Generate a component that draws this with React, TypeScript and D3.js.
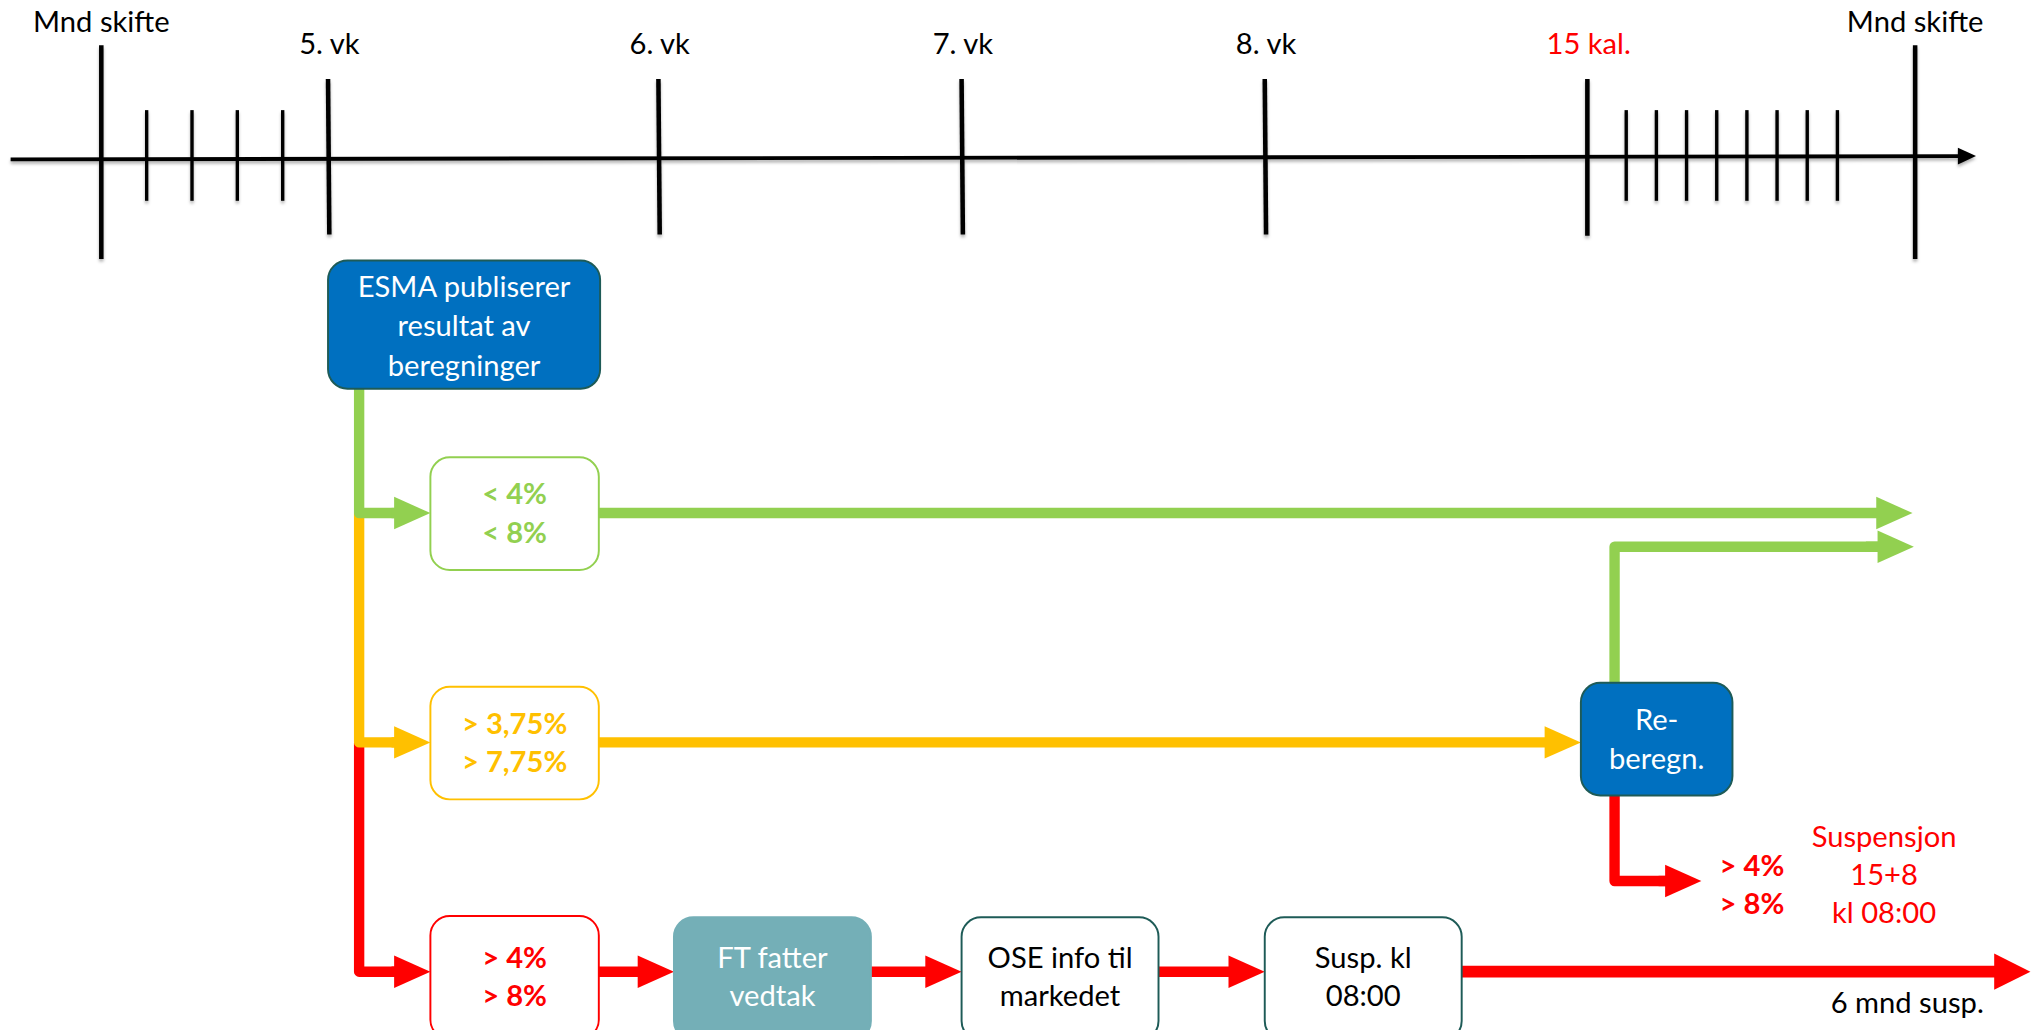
import * as d3 from "d3";

// timeline: labelled ticks and small day ticks, placed by slot number
const tickLabels = ["Mnd skifte", "5. vk", "6. vk", "7. vk", "8. vk", "15 kal.", "Mnd skifte"];
const tickSlots = [0, 5, 6, 7, 8, 15, 25];
const tickKinds = ["month", "week", "week", "week", "week", "kal", "month"];
const minorSlots = [1, 2, 3, 4, 16, 17, 18, 19, 20, 21, 22, 23];

// flow boxes
const startLines = ["ESMA publiserer", "resultat av", "beregninger"];
const branchLabels = [
	["< 4%", "< 8%"],
	["> 3,75%", "> 7,75%"],
	["> 4%", "> 8%"],
];
const branchColors = ["#92D050", "#FFC000", "#FF0000"];
const recalcLines = ["Re-", "beregn."];
const recalcRedLabels = ["> 4%", "> 8%"];
const suspLines = ["Suspensjon", "15+8", "kl 08:00"];
const stepLines = [
	["FT fatter", "vedtak"],
	["OSE info til", "markedet"],
	["Susp. kl", "08:00"],
];
const stepSlots = [6, 7, 8];
const endLabel = "6 mnd susp.";

const FONT = "Lato, 'Open Sans', sans-serif";
const BLUE = "#0070C0";
const DARK = "#1E5B57";
const RED = "#FF0000";
const GREEN = "#92D050";
const YELLOW = "#FFC000";

function Lines(props: {
	lines: string[];
	cx: number;
	cy: number;
	fill: string;
	bold?: boolean;
	lh?: number;
	anchor?: string;
}) {
	const lh = props.lh ?? 29.5;
	const n = props.lines.length;
	return (
		<text
			fontFamily={FONT}
			fontSize={22.5}
			fontWeight={props.bold ? 700 : 400}
			fill={props.fill}
			textAnchor={props.anchor ?? "middle"}
		>
			{props.lines.map((l, i) => (
				<tspan key={i} x={props.cx} y={props.cy + (i - (n - 1) / 2) * lh + 8}>
					{l}
				</tspan>
			))}
		</text>
	);
}

function Arrow(props: {
	x1: number;
	x2: number;
	y: number;
	color: string;
	w?: number;
	head?: number;
	half?: number;
}) {
	const head = props.head ?? 28;
	const half = props.half ?? 12.5;
	const w = props.w ?? 8;
	const base = props.x2 - head;
	return (
		<g>
			<line
				x1={props.x1}
				x2={base + 1}
				y1={props.y}
				y2={props.y}
				stroke={props.color}
				strokeWidth={w}
			/>
			<polygon
				points={`${base},${props.y - half} ${props.x2},${props.y} ${base},${props.y + half}`}
				fill={props.color}
			/>
		</g>
	);
}

function elbow(x0: number, y0: number, y1: number, x1: number) {
	const p = d3.path();
	p.moveTo(x0, y0);
	p.lineTo(x0, y1);
	p.lineTo(x1, y1);
	return p.toString();
}

export default function App() {
	const x = d3
		.scaleLinear()
		.domain([0, 5, 6, 7, 8, 15, 16, 23, 25])
		.range([78, 253, 508, 742, 976, 1225, 1255, 1418, 1478]);
	const rowY = d3.scaleLinear().domain([0, 2]).range([396, 750]);

	const axisY = 122;
	const tickExtent: Record<string, [number, number]> = {
		month: [35, 200],
		week: [61, 181],
		kal: [61, 182],
	};

	const trunkX = 277;
	const branchX0 = 332;
	const branchX1 = 462;
	const startBox = { x: x(5), y: 201, w: 210, h: 99 };
	const recalc = { x: x(15) - 5, y: 527, w: 117, h: 87 };
	const recalcStem = recalc.x + 26;
	const stepW = 152;
	const stepXs = stepSlots.map((s, i) => x(s) + (i === 0 ? 12 : 0));
	const boxH = 87;

	return (
		<svg
			width={2032}
			height={1030}
			viewBox="0 0 1568 795"
			style={{ position: "absolute", left: 0, top: 0, background: "#fff" }}
		>
			<defs>
				<filter id="sh" x="-5%" y="-50%" width="110%" height="200%">
					<feDropShadow dx="0" dy="2" stdDeviation="1.4" floodColor="#000" floodOpacity="0.3" />
				</filter>
			</defs>
			<rect x={0} y={0} width={1568} height={795} fill="#fff" />

			{/* timeline */}
			<g filter="url(#sh)">
				<line x1={8} x2={1512} y1={axisY + 1} y2={axisY - 1.5} stroke="#000" strokeWidth={3} />
				<polygon points={`1511,${axisY - 8} 1525,${axisY - 1.5} 1511,${axisY + 5}`} fill="#000" />
				{tickSlots.map((s, i) => {
					const [t, b] = tickExtent[tickKinds[i]];
					return (
						<line
							key={"t" + i}
							x1={x(s)}
							x2={x(s) + (tickKinds[i] === "week" ? 1 : 0)}
							y1={t}
							y2={b}
							stroke="#000"
							strokeWidth={3.5}
						/>
					);
				})}
				{minorSlots.map((s, i) => (
					<line key={"m" + i} x1={x(s)} x2={x(s)} y1={85} y2={155} stroke="#000" strokeWidth={2.6} />
				))}
			</g>
			{tickSlots.map((s, i) => (
				<text
					key={"l" + i}
					x={x(s) + (tickKinds[i] === "month" ? 0 : 1)}
					y={tickKinds[i] === "month" ? 25 : 42}
					fontFamily={FONT}
					fontSize={22.5}
					textAnchor="middle"
					fill={tickKinds[i] === "kal" ? RED : "#000"}
				>
					{tickLabels[i]}
				</text>
			))}

			{/* trunk from ESMA box */}
			<path
				d={elbow(trunkX, rowY(1), rowY(2), branchX0 - 27)}
				fill="none"
				stroke={RED}
				strokeWidth={8}
				strokeLinejoin="round"
			/>
			<path
				d={elbow(trunkX, rowY(0), rowY(1), branchX0 - 27)}
				fill="none"
				stroke={YELLOW}
				strokeWidth={8}
				strokeLinejoin="round"
			/>
			<path
				d={elbow(trunkX, startBox.y + startBox.h, rowY(0), branchX0 - 27)}
				fill="none"
				stroke={GREEN}
				strokeWidth={8}
				strokeLinejoin="round"
			/>
			{branchColors.map((c, i) => (
				<Arrow key={"ba" + i} x1={branchX0 - 30} x2={branchX0} y={rowY(i)} color={c} />
			))}

			{/* long outgoing arrows */}
			<Arrow x1={branchX1} x2={1476} y={rowY(0)} color={GREEN} />
			<Arrow x1={branchX1} x2={recalc.x} y={rowY(1)} color={YELLOW} />

			{/* re-calculation exits */}
			<path
				d={elbow(recalcStem, recalc.y, 422, 1450)}
				fill="none"
				stroke={GREEN}
				strokeWidth={8}
				strokeLinejoin="round"
			/>
			<Arrow x1={1440} x2={1477} y={422} color={GREEN} />
			<path
				d={elbow(recalcStem, recalc.y + recalc.h, 680, 1290)}
				fill="none"
				stroke={RED}
				strokeWidth={8}
				strokeLinejoin="round"
			/>
			<Arrow x1={1280} x2={1313} y={680} color={RED} />

			{/* bottom red chain */}
			<Arrow x1={branchX1} x2={stepXs[0]} y={rowY(2)} color={RED} />
			<Arrow x1={stepXs[0] + stepW} x2={stepXs[1]} y={rowY(2)} color={RED} />
			<Arrow x1={stepXs[1] + stepW} x2={stepXs[2]} y={rowY(2)} color={RED} />
			<Arrow x1={stepXs[2] + stepW} x2={1567} y={rowY(2)} color={RED} w={9} head={28} half={14} />

			{/* boxes */}
			<rect
				x={startBox.x}
				y={startBox.y}
				width={startBox.w}
				height={startBox.h}
				rx={15}
				fill={BLUE}
				stroke={DARK}
				strokeWidth={1.5}
			/>
			<Lines lines={startLines} cx={startBox.x + startBox.w / 2} cy={startBox.y + startBox.h / 2 + 1} fill="#fff" lh={30.5} />

			{branchColors.map((c, i) => (
				<g key={"bb" + i}>
					<rect
						x={branchX0}
						y={rowY(i) - 43}
						width={branchX1 - branchX0}
						height={i === 2 ? boxH + 8 : boxH}
						rx={15}
						fill="#fff"
						stroke={c}
						strokeWidth={1.5}
					/>
					<Lines lines={branchLabels[i]} cx={(branchX0 + branchX1) / 2} cy={rowY(i) + (i === 2 ? 4 : 0)} fill={c} bold />
				</g>
			))}

			<rect x={recalc.x} y={recalc.y} width={recalc.w} height={recalc.h} rx={15} fill={BLUE} stroke={DARK} strokeWidth={1.5} />
			<Lines lines={recalcLines} cx={recalc.x + recalc.w / 2} cy={recalc.y + recalc.h / 2} fill="#fff" />
			<Lines lines={recalcRedLabels} cx={1352} cy={683} fill={RED} bold />
			<Lines lines={suspLines} cx={1454} cy={675} fill={RED} lh={29.5} />

			{stepLines.map((lines, i) => (
				<g key={"s" + i}>
					<rect
						x={stepXs[i]}
						y={rowY(2) - 42}
						width={stepW}
						height={boxH + 8}
						rx={15}
						fill={i === 0 ? "#74AFB7" : "#fff"}
						stroke={i === 0 ? "#74AFB7" : DARK}
						strokeWidth={1.5}
					/>
					<Lines lines={lines} cx={stepXs[i] + stepW / 2} cy={rowY(2) + 4} fill={i === 0 ? "#fff" : "#000"} />
				</g>
			))}

			<text x={1531} y={782} fontFamily={FONT} fontSize={22.5} textAnchor="end" fill="#000">
				{endLabel}
			</text>
		</svg>
	);
}
